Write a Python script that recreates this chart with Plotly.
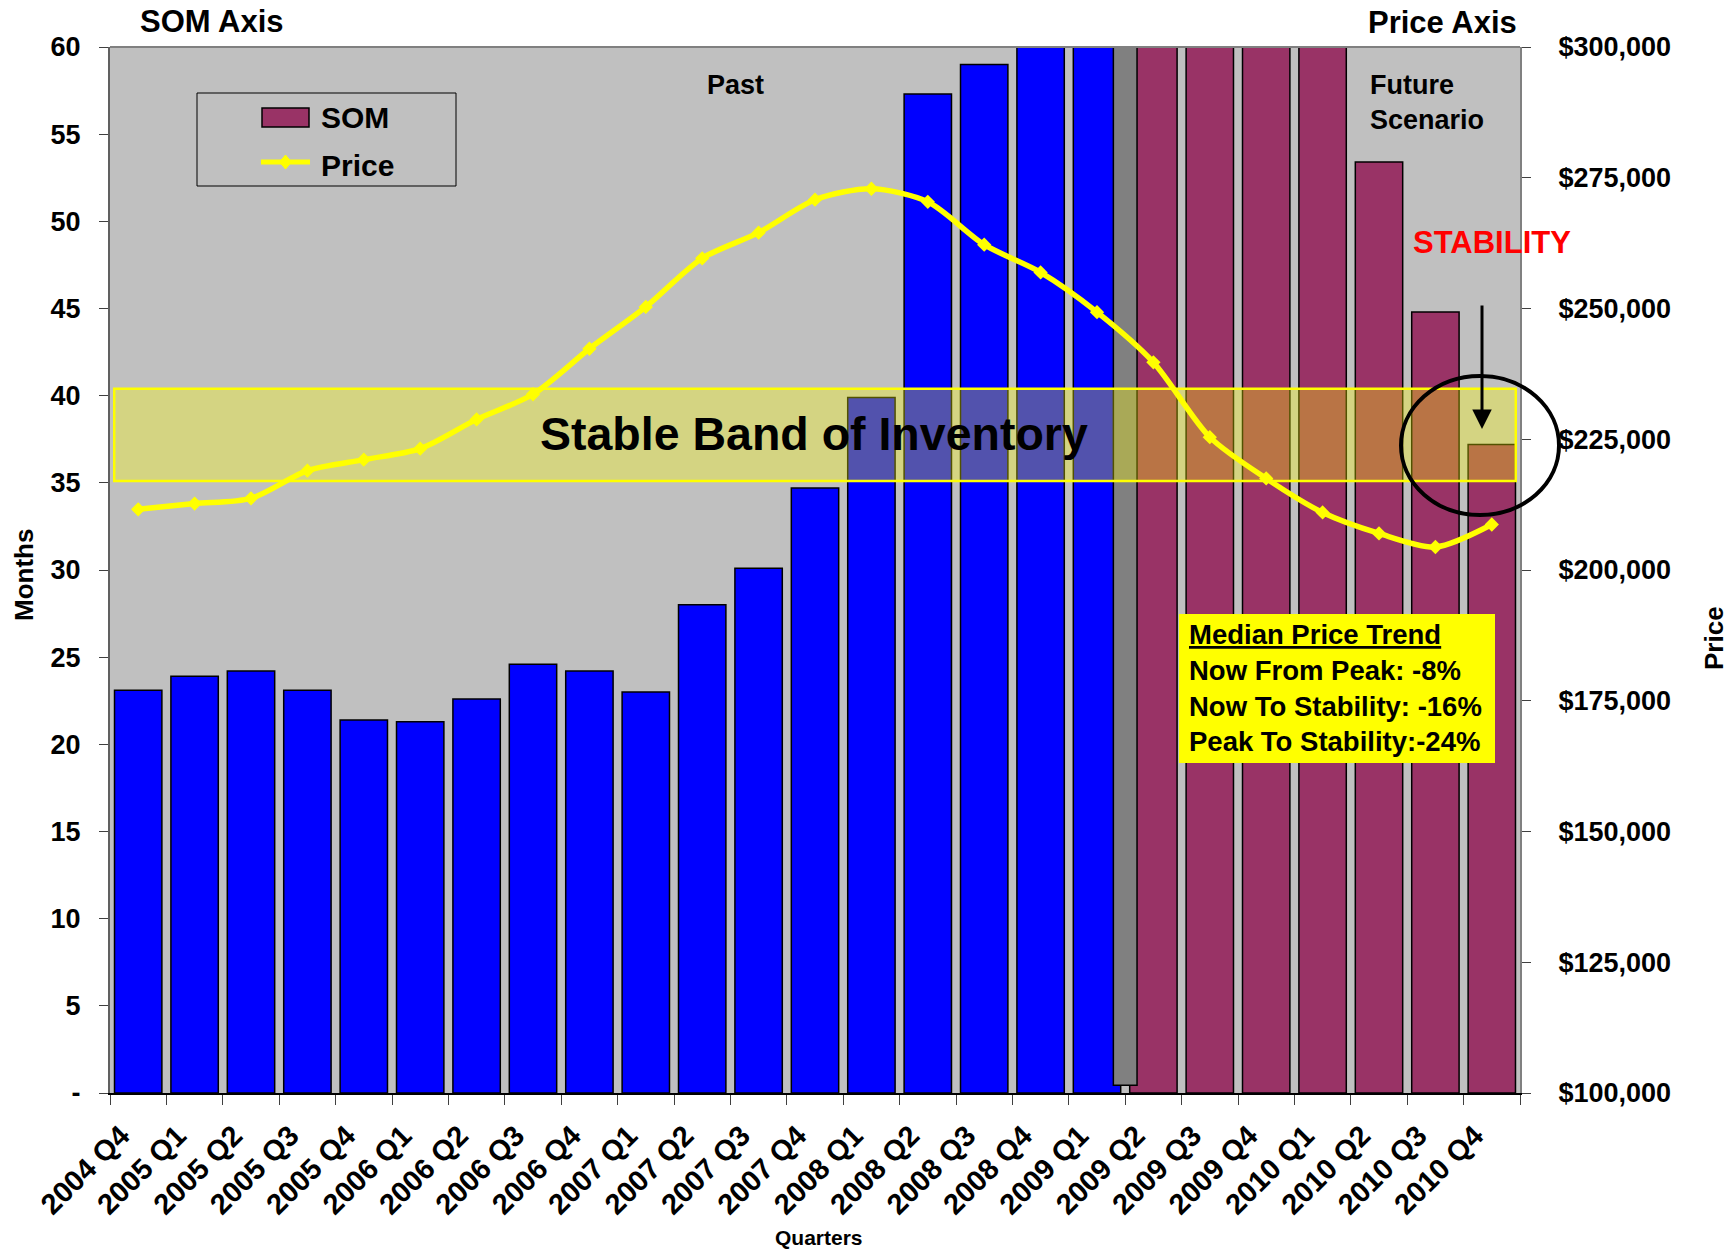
import plotly.graph_objects as go

# ---- data -------------------------------------------------------------
quarters = ["2004 Q4", "2005 Q1", "2005 Q2", "2005 Q3", "2005 Q4", "2006 Q1",
            "2006 Q2", "2006 Q3", "2006 Q4", "2007 Q1", "2007 Q2", "2007 Q3",
            "2007 Q4", "2008 Q1", "2008 Q2", "2008 Q3", "2008 Q4", "2009 Q1",
            "2009 Q2", "2009 Q3", "2009 Q4", "2010 Q1", "2010 Q2", "2010 Q3",
            "2010 Q4"]

# supply of inventory, in months
som_months = [23.1, 23.9, 24.2, 23.1, 21.4, 21.3, 22.6, 24.6, 24.2, 23.0,
              28.0, 30.1, 34.7, 39.9, 57.3, 59.0, 64.0, 68.0, 75.0, 78.0,
              74.0, 66.0, 53.4, 44.8, 37.2]

# median sale price, in dollars
median_price = [211600, 212700, 213700, 219000, 221100, 223200, 228800,
                233600, 242300, 250300, 259600, 264500, 270800, 272900,
                270400, 262200, 256900, 249300, 239700, 225400, 217500,
                211000, 207000, 204400, 208700]

n_past = 18                      # quarters of history; the rest is projection
stable_band = [35.1, 40.4]       # months of inventory regarded as stable

som_ticks = list(range(0, 61, 5))
som_ticktext = ["-"] + [str(v) for v in som_ticks[1:]]
price_ticks = list(range(100000, 300001, 25000))
price_ticktext = ["${:,}".format(v) for v in price_ticks]

trend_lines = ["<u>Median Price Trend</u>",
               "Now From Peak: -8%",
               "Now To Stability: -16%",
               "Peak To Stability:-24%"]

# ---- styling ----------------------------------------------------------
FONT = "Liberation Sans, Arial, Helvetica, sans-serif"
BLUE = "#0000FF"
MAROON = "#993366"
YELLOW = "#FFFF00"
PLOT_BG = "#C0C0C0"

fig = go.Figure()

# historic bars
fig.add_trace(go.Bar(
    x=quarters[:n_past], y=som_months[:n_past], name="SOM",
    marker=dict(color=BLUE, line=dict(color="black", width=1.5)),
    showlegend=False, yaxis="y"))

# projected bars
fig.add_trace(go.Bar(
    x=quarters[n_past:], y=som_months[n_past:], name="SOM",
    marker=dict(color=MAROON, line=dict(color="black", width=1.5)),
    showlegend=False, yaxis="y"))

# grey divider between past and future
fig.add_trace(go.Bar(
    x=[quarters[n_past - 1]], y=[59.55], base=[0.45],
    offset=0.29, width=0.42,
    marker=dict(color="#808080", line=dict(color="black", width=1.5)),
    showlegend=False, hoverinfo="skip", yaxis="y"))

# price line on the secondary axis
fig.add_trace(go.Scatter(
    x=quarters, y=median_price, name="Price", mode="lines+markers",
    line=dict(color=YELLOW, width=5.5, shape="spline", smoothing=0.8),
    marker=dict(symbol="diamond", size=11, color=YELLOW),
    showlegend=False, yaxis="y2"))

# ---- paper-coordinate helpers (plot area in pixels) --------------------
W, H = 1733, 1250
L, R, T, B = 110, 213, 47, 157
PW, PH = W - L - R, H - T - B


def px(x):
    return (x - L) / PW


def py(y):
    return (H - B - y) / PH


shapes = []
annotations = []

# plot-area top border
shapes.append(dict(type="line", xref="paper", yref="paper",
                   x0=0, x1=1, y0=1, y1=1,
                   line=dict(color="#808080", width=2), layer="above"))

# stable band of inventory
shapes.append(dict(type="rect", xref="paper", yref="y",
                   x0=0.003, x1=0.997, y0=stable_band[0], y1=stable_band[1],
                   fillcolor="rgba(255,255,0,0.32)",
                   line=dict(color=YELLOW, width=2.5), layer="above"))

# legend box with swatches
shapes.append(dict(type="rect", xref="paper", yref="paper",
                   x0=px(197), x1=px(456), y0=py(186), y1=py(93),
                   fillcolor=PLOT_BG, line=dict(color="black", width=1),
                   layer="above"))
shapes.append(dict(type="rect", xref="paper", yref="paper",
                   x0=px(262), x1=px(309), y0=py(127), y1=py(108),
                   fillcolor=MAROON, line=dict(color="black", width=1.5),
                   layer="above"))
shapes.append(dict(type="line", xref="paper", yref="paper",
                   x0=px(261), x1=px(310), y0=py(162), y1=py(162),
                   line=dict(color=YELLOW, width=5), layer="above"))
cx, cy = 285.5, 162
shapes.append(dict(type="path", xref="paper", yref="paper",
                   path="M {} {} L {} {} L {} {} L {} {} Z".format(
                       px(cx - 6), py(cy), px(cx), py(cy - 7),
                       px(cx + 6), py(cy), px(cx), py(cy + 7)),
                   fillcolor=YELLOW, line=dict(color=YELLOW, width=1),
                   layer="above"))

# median price trend box
shapes.append(dict(type="rect", xref="paper", yref="paper",
                   x0=px(1179), x1=px(1495), y0=py(763), y1=py(614),
                   fillcolor=YELLOW, line=dict(width=0), layer="above"))

# stability circle
shapes.append(dict(type="circle", xref="paper", yref="paper",
                   x0=px(1401), x1=px(1559), y0=py(515), y1=py(376),
                   line=dict(color="black", width=4), layer="above"))


def note(text, x, y, size, color="black", xanchor="center", yanchor="middle",
         angle=0, align="center"):
    annotations.append(dict(
        text=text, xref="paper", yref="paper", x=px(x), y=py(y),
        xanchor=xanchor, yanchor=yanchor, showarrow=False, textangle=angle,
        align=align,
        font=dict(family=FONT, size=size, color=color, weight="bold")))


note("SOM Axis", 212, 21, 31)
note("Price Axis", 1442, 23, 31)
note("Months", 24, 575, 26, angle=-90)
note("Price", 1714, 638, 26, angle=-90)
note("Quarters", 819, 1237, 21)
note("Past", 735, 85, 27)
note("Future<br>Scenario", 1368, 103, 27, xanchor="left", align="left")
note("STABILITY", 1492, 242, 31, color="#FF0000")
note("Stable Band of Inventory", 814, 434, 46.5)
note("SOM", 319, 118, 30, xanchor="left")
note("Price", 319, 165, 30, xanchor="left")
note("<br>".join(trend_lines), 1187, 688, 27.5, xanchor="left", align="left")

# arrow pointing at the stable quarter
annotations.append(dict(
    xref="paper", yref="paper", x=px(1482), y=py(429),
    ax=0, ay=-125, axref="pixel", ayref="pixel", text="",
    showarrow=True, arrowhead=2, arrowsize=1.3, arrowwidth=3,
    arrowcolor="black"))

fig.update_layout(
    width=W, height=H,
    margin=dict(l=L, r=R, t=T, b=B, pad=0),
    paper_bgcolor="white",
    plot_bgcolor=PLOT_BG,
    barmode="overlay",
    bargap=0.16,
    font=dict(family=FONT, size=27, color="black", weight="bold"),
    showlegend=False,
    shapes=shapes,
    annotations=annotations,
    xaxis=dict(
        type="category", categoryorder="array", categoryarray=quarters,
        range=[-0.5, len(quarters) - 0.5],
        tickangle=-45, tickson="boundaries", ticks="outside", ticklen=10,
        tickcolor="#404040", tickwidth=1,
        tickfont=dict(family=FONT, size=29, weight="bold"),
        ticklabelstandoff=12, ticklabelshift=-17,
        showline=True, linecolor="black", linewidth=2,
        showgrid=False, zeroline=False),
    yaxis=dict(
        range=[0, 60], tickvals=som_ticks, ticktext=som_ticktext,
        ticks="outside", ticklen=9, tickcolor="#404040",
        tickfont=dict(family=FONT, size=27, weight="bold"),
        ticklabelstandoff=13,
        showline=True, linecolor="#606060", linewidth=2,
        showgrid=False, zeroline=False),
    yaxis2=dict(
        range=[100000, 300000], tickvals=price_ticks, ticktext=price_ticktext,
        overlaying="y", side="right",
        ticks="outside", ticklen=9, tickcolor="#404040",
        tickfont=dict(family=FONT, size=27, weight="bold"),
        ticklabelstandoff=22,
        showline=True, linecolor="#808080", linewidth=2,
        showgrid=False, zeroline=False),
)

fig.write_html("out.html")
